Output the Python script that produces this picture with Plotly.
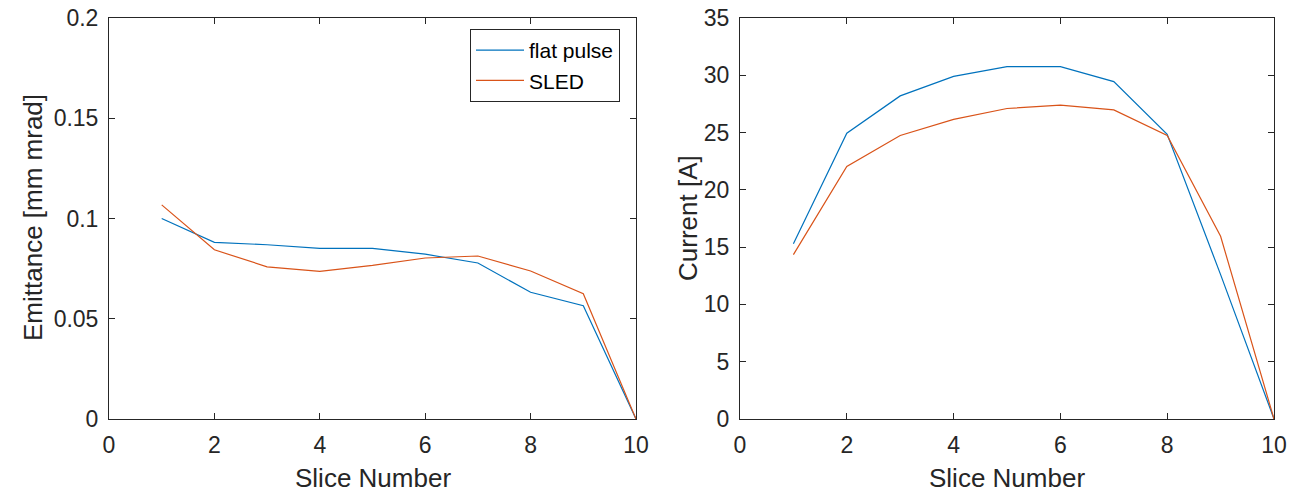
import plotly.graph_objects as go

slices = [1, 2, 3, 4, 5, 6, 7, 8, 9, 10]
emit_flat = [0.100, 0.0881, 0.0869, 0.0851, 0.0851, 0.0822, 0.0778, 0.0632, 0.0565, 0.0]
emit_sled = [0.1068, 0.0844, 0.0759, 0.0736, 0.0766, 0.0803, 0.0813, 0.0738, 0.0625, 0.0]
curr_flat = [15.3, 24.95, 28.2, 29.9, 30.75, 30.75, 29.45, 24.85, 12.6, 0.0]
curr_sled = [14.35, 22.05, 24.75, 26.15, 27.1, 27.4, 26.98, 24.75, 15.95, 0.0]

xticks = [0, 2, 4, 6, 8, 10]
yticks_left = [0, 0.05, 0.1, 0.15, 0.2]
yticklabels_left = ["0", "0.05", "0.1", "0.15", "0.2"]
yticks_right = [0, 5, 10, 15, 20, 25, 30, 35]

BLUE = "#0072BD"
ORANGE = "#D95319"
AX = "#262626"
FONT = "Liberation Sans, Arial"
W, H = 1309, 493

fig = go.Figure()
fig.add_trace(go.Scatter(x=slices, y=emit_flat, mode="lines", name="flat pulse",
                         line=dict(color=BLUE, width=1.2), xaxis="x", yaxis="y"))
fig.add_trace(go.Scatter(x=slices, y=emit_sled, mode="lines", name="SLED",
                         line=dict(color=ORANGE, width=1.2), xaxis="x", yaxis="y"))
fig.add_trace(go.Scatter(x=slices, y=curr_flat, mode="lines", showlegend=False,
                         line=dict(color=BLUE, width=1.2), xaxis="x2", yaxis="y2"))
fig.add_trace(go.Scatter(x=slices, y=curr_sled, mode="lines", showlegend=False,
                         line=dict(color=ORANGE, width=1.2), xaxis="x2", yaxis="y2"))

ydom = [(H - 419) / H, (H - 18) / H]
axcommon = dict(showline=True, linecolor=AX, linewidth=1, mirror="ticks", ticks="inside",
                ticklen=6, tickcolor=AX, showgrid=False, zeroline=False, automargin=False,
                ticklabelstandoff=5,
                tickfont=dict(family=FONT, size=23, color=AX))

fig.update_layout(
    width=W, height=H, margin=dict(l=0, r=0, t=0, b=0),
    plot_bgcolor="white", paper_bgcolor="white",
    xaxis=dict(domain=[109 / W, 636 / W], range=[0, 10], tickvals=xticks,
               anchor="y", **axcommon),
    yaxis=dict(domain=ydom, range=[0, 0.2], tickvals=yticks_left, ticktext=yticklabels_left,
               anchor="x", **axcommon),
    xaxis2=dict(domain=[740 / W, 1274 / W], range=[0, 10], tickvals=xticks,
                anchor="y2", **axcommon),
    yaxis2=dict(domain=ydom, range=[0, 35], tickvals=yticks_right,
                anchor="x2", **axcommon),
    legend=dict(x=470 / W, y=(H - 29) / H, xanchor="left", yanchor="top",
                bgcolor="white", bordercolor=AX, borderwidth=1,
                font=dict(family=FONT, size=21, color="black"),
                tracegroupgap=0, itemwidth=48),
    showlegend=True,
)

title_font = dict(family=FONT, size=26, color=AX)
fig.add_annotation(text="Slice Number", xref="paper", yref="paper",
                   x=(109 + 636) / 2 / W, y=(H - 478) / H, xanchor="center", yanchor="middle",
                   showarrow=False, font=title_font)
fig.add_annotation(text="Slice Number", xref="paper", yref="paper",
                   x=(740 + 1274) / 2 / W, y=(H - 478) / H, xanchor="center", yanchor="middle",
                   showarrow=False, font=title_font)
fig.add_annotation(text="Emittance [mm mrad]", xref="paper", yref="paper",
                   x=33 / W, y=(H - 218) / H, xanchor="center", yanchor="middle",
                   textangle=-90, showarrow=False, font=title_font)
fig.add_annotation(text="Current [A]", xref="paper", yref="paper",
                   x=688 / W, y=(H - 218) / H, xanchor="center", yanchor="middle",
                   textangle=-90, showarrow=False, font=title_font)

fig.write_html("out.html")
